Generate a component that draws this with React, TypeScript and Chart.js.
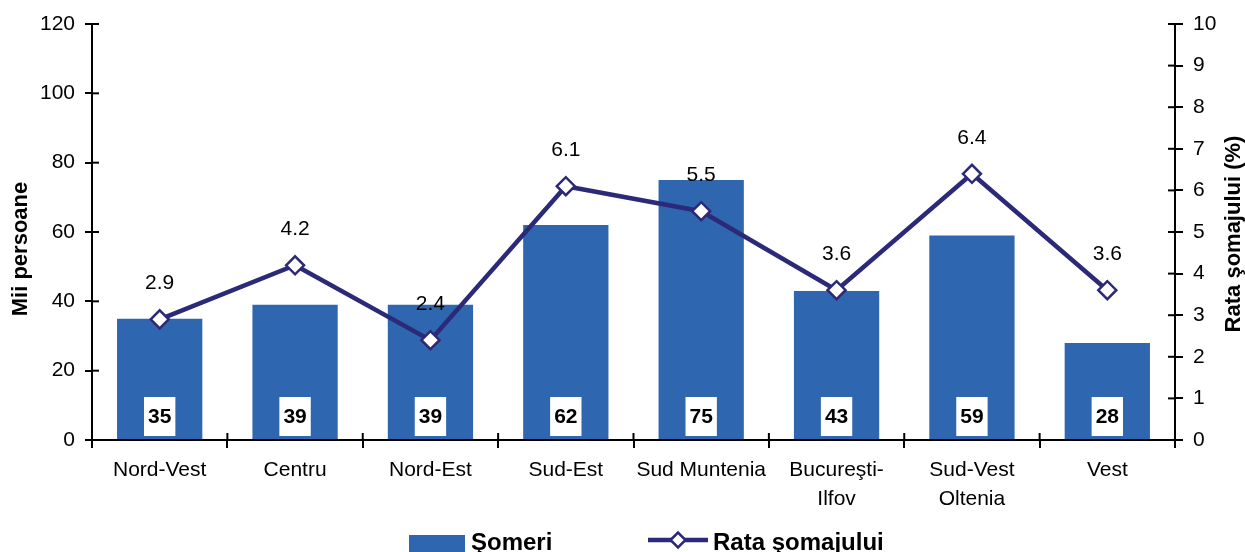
import React, { useEffect, useRef } from "react";
import { Chart, registerables } from "chart.js";

Chart.register(...registerables);

const categories: (string | string[])[] = [
  "Nord-Vest",
  "Centru",
  "Nord-Est",
  "Sud-Est",
  "Sud Muntenia",
  ["Bucureşti-", "Ilfov"],
  ["Sud-Vest", "Oltenia"],
  "Vest",
];
const someri: number[] = [35, 39, 39, 62, 75, 43, 59, 28];
const rata: number[] = [2.9, 4.2, 2.4, 6.1, 5.5, 3.6, 6.4, 3.6];
const leftTicks = { min: 0, max: 120, step: 20 };
const rightTicks = { min: 0, max: 10, step: 1 };

const BAR_COLOR = "#2E66B0";
const LINE_COLOR = "#2C2A78";
const FONT = "'Liberation Sans', Arial, sans-serif";

const customPlugin = {
  id: "custom",
  afterDatasetsDraw(chart: any) {
    const ctx = chart.ctx;
    const ca = chart.chartArea;
    // inner tick marks
    ctx.save();
    ctx.strokeStyle = "#000";
    ctx.lineWidth = 2;
    const y = chart.scales.y;
    y.ticks.forEach((_t: any, i: number) => {
      const py = y.getPixelForTick(i);
      ctx.beginPath();
      ctx.moveTo(ca.left, py);
      ctx.lineTo(ca.left + 7, py);
      ctx.stroke();
    });
    const y1 = chart.scales.y1;
    y1.ticks.forEach((_t: any, i: number) => {
      const py = y1.getPixelForTick(i);
      ctx.beginPath();
      ctx.moveTo(ca.right, py);
      ctx.lineTo(ca.right - 7, py);
      ctx.stroke();
    });
    const x = chart.scales.x;
    const n = categories.length;
    const w = (ca.right - ca.left) / n;
    for (let i = 1; i < n; i++) {
      const px = x.getPixelForTick(i) - w / 2;
      ctx.beginPath();
      ctx.moveTo(px, ca.bottom);
      ctx.lineTo(px, ca.bottom - 7);
      ctx.stroke();
    }
    ctx.restore();

    // bar labels
    const barMeta = chart.getDatasetMeta(0);
    ctx.save();
    ctx.font = `bold 21px ${FONT}`;
    ctx.textAlign = "center";
    ctx.textBaseline = "middle";
    barMeta.data.forEach((bar: any, i: number) => {
      const txt = String(someri[i]);
      const tw = ctx.measureText(txt).width;
      const bw = tw + 8;
      const bh = 39;
      const by = ca.bottom - 4 - bh;
      ctx.fillStyle = "#fff";
      ctx.fillRect(bar.x - bw / 2, by, bw, bh);
      ctx.fillStyle = "#000";
      ctx.fillText(txt, bar.x, by + bh / 2 + 1);
    });
    ctx.restore();

    // line labels
    const lineMeta = chart.getDatasetMeta(1);
    ctx.save();
    ctx.font = `21px ${FONT}`;
    ctx.textAlign = "center";
    ctx.textBaseline = "middle";
    ctx.fillStyle = "#000";
    lineMeta.data.forEach((pt: any, i: number) => {
      ctx.fillText(rata[i].toFixed(1), pt.x, pt.y - 36);
    });
    ctx.restore();
  },
  afterDraw(chart: any) {
    const ctx = chart.ctx;
    ctx.save();
    // axis titles
    ctx.fillStyle = "#000";
    ctx.textAlign = "center";
    ctx.textBaseline = "middle";
    ctx.font = `bold 22px ${FONT}`;
    ctx.save();
    ctx.translate(21, 249);
    ctx.rotate(-Math.PI / 2);
    ctx.fillText("Mii persoane", 0, 0);
    ctx.restore();
    ctx.save();
    ctx.translate(1234, 234);
    ctx.rotate(-Math.PI / 2);
    ctx.fillText("Rata şomajului (%)", 0, 0);
    ctx.restore();

    // legend
    ctx.fillStyle = BAR_COLOR;
    ctx.fillRect(409, 535, 56, 20);
    ctx.font = `bold 24px ${FONT}`;
    ctx.fillStyle = "#000";
    ctx.textAlign = "left";
    ctx.textBaseline = "alphabetic";
    ctx.fillText("Şomeri", 471, 550);
    ctx.strokeStyle = LINE_COLOR;
    ctx.lineWidth = 4.5;
    ctx.beginPath();
    ctx.moveTo(648, 540);
    ctx.lineTo(708, 540);
    ctx.stroke();
    ctx.beginPath();
    ctx.moveTo(678 - 7.5, 540);
    ctx.lineTo(678, 532.5);
    ctx.lineTo(678 + 7.5, 540);
    ctx.lineTo(678, 547.5);
    ctx.closePath();
    ctx.fillStyle = "#fff";
    ctx.fill();
    ctx.lineWidth = 2.5;
    ctx.stroke();
    ctx.fillStyle = "#000";
    ctx.fillText("Rata şomajului", 713, 550);
    ctx.restore();
  },
};

export default function App() {
  const ref = useRef<HTMLCanvasElement | null>(null);
  useEffect(() => {
    if (!ref.current) return;
    const chart = new Chart(ref.current, {
      type: "bar",
      data: {
        labels: categories as any,
        datasets: [
          {
            type: "bar",
            label: "Şomeri",
            data: someri,
            backgroundColor: BAR_COLOR,
            yAxisID: "y",
            barPercentage: 0.63,
            categoryPercentage: 1,
            order: 1,
          },
          {
            type: "line",
            label: "Rata şomajului",
            data: rata,
            borderColor: LINE_COLOR,
            borderWidth: 4.5,
            pointStyle: "rectRot",
            pointRadius: 9,
            pointBorderWidth: 2.5,
            pointBackgroundColor: "#fff",
            pointBorderColor: LINE_COLOR,
            yAxisID: "y1",
            tension: 0,
            order: 0,
          } as any,
        ],
      },
      options: {
        responsive: true,
        maintainAspectRatio: false,
        animation: false,
        layout: { padding: { top: 24, left: 0, right: 0, bottom: 0 } },
        plugins: {
          legend: { display: false },
          tooltip: { enabled: false },
        },
        scales: {
          x: {
            offset: true,
            grid: {
              display: true,
              offset: true,
              drawOnChartArea: false,
              drawTicks: true,
              tickLength: 8,
              color: "#000",
              lineWidth: 2,
            },
            border: { display: true, color: "#000", width: 2 },
            ticks: {
              color: "#000",
              font: { family: FONT, size: 21, lineHeight: 1.38 },
              padding: 8,
              maxRotation: 0,
              autoSkip: false,
            },
            afterFit: (s: any) => {
              s.height = 112;
            },
          },
          y: {
            position: "left",
            min: leftTicks.min,
            max: leftTicks.max,
            grid: {
              display: true,
              drawOnChartArea: false,
              drawTicks: true,
              tickLength: 7,
              color: "#000",
              lineWidth: 2,
            },
            border: { display: true, color: "#000", width: 2 },
            ticks: {
              stepSize: leftTicks.step,
              color: "#000",
              font: { family: FONT, size: 21 },
              padding: 10,
            },
            afterFit: (s: any) => {
              s.width = 92;
            },
          },
          y1: {
            position: "right",
            min: rightTicks.min,
            max: rightTicks.max,
            grid: {
              display: true,
              drawOnChartArea: false,
              drawTicks: true,
              tickLength: 8,
              color: "#000",
              lineWidth: 2,
            },
            border: { display: true, color: "#000", width: 2 },
            ticks: {
              stepSize: rightTicks.step,
              color: "#000",
              font: { family: FONT, size: 21 },
              padding: 10,
            },
            afterFit: (s: any) => {
              s.width = 70;
            },
          },
        },
      },
      plugins: [customPlugin],
    });
    return () => chart.destroy();
  }, []);
  return (
    <div style={{ position: "fixed", left: 0, top: 0, width: 1245, height: 552, background: "#fff" }}>
      <canvas ref={ref} />
    </div>
  );
}
